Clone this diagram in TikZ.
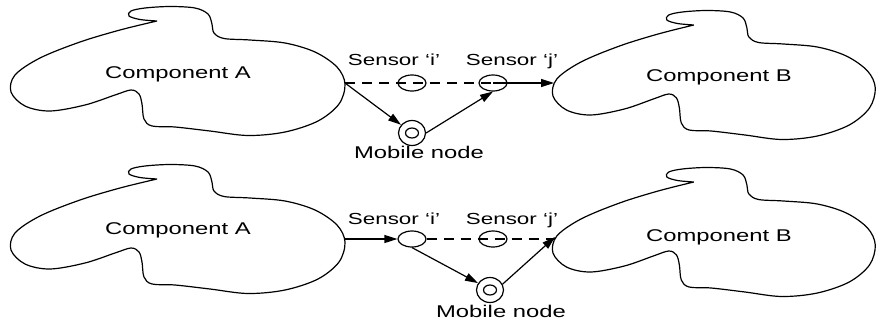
\documentclass[tikz,border=0pt]{standalone}
\usepackage{fontspec}
\newfontfamily\lab{Liberation Sans}[FakeStretch=1.4]
\usetikzlibrary{arrows.meta,shapes.geometric}
\tikzset{
  blob/.pic={\draw[line width=1.2pt] plot[smooth, tension=0.55] coordinates {(147,21) (130,19.5) (119,16) (121,11) (135,8) (160,6.5) (185,8) (198,14) (202,24) (204,33) (214,38.5) (240,40) (275,43) (305,52) (327,67) (335,84) (329,104) (308,121) (275,132) (238,135.5) (200,131) (165,127) (142,126) (134,119) (132,104) (129,94) (121,90) (105,95) (75,105) (40,111) (15,106) (1,92) (5,75) (30,58) (70,42) (110,30) (147,21)};},
  conn/.style={line width=1.2pt,-{Triangle[length=13pt,width=8pt]}},
  dline/.style={line width=1.2pt,dash pattern=on 10pt off 7pt},
  sensor/.style={draw,line width=1.2pt,ellipse,minimum width=28pt,minimum height=16pt,inner sep=0pt},
  mobouter/.style={draw,line width=1.2pt,ellipse,minimum width=27pt,minimum height=25pt,inner sep=0pt},
  mobinner/.style={draw,line width=1.2pt,ellipse,minimum width=13pt,minimum height=10pt,inner sep=0pt},
  comp/.style={font=\lab\fontsize{17}{20}\selectfont,anchor=base,inner sep=0pt},
  slab/.style={font=\lab\fontsize{16}{19}\selectfont,anchor=base,inner sep=0pt},
  mlab/.style={font=\lab\fontsize{17}{20}\selectfont,anchor=base,inner sep=0pt}
}
\begin{document}
\begin{tikzpicture}[x=1pt,y=-1pt]
\useasboundingbox (0,0) rectangle (876,322);
% blobs
\pic at (10,0) {blob};
\pic[xscale=0.965] at (552,4) {blob};
\pic at (10,158) {blob};
\pic[xscale=0.965] at (552,161) {blob};
% labels
\node[comp] (cA1) at (178,78) {Component A};
\node[comp] (cB1) at (719,81) {Component B};
\node[comp] (cA2) at (178,234) {Component A};
\node[comp] (cB2) at (719,241) {Component B};
\node[slab] (li1) at (394,65) {Sensor ‘i’};
\node[slab] (lj1) at (512,65) {Sensor ‘j’};
\node[slab] (li2) at (394,224) {Sensor ‘i’};
\node[slab] (lj2) at (512,224) {Sensor ‘j’};
\node[mlab] (lm1) at (419,158) {Mobile node};
\node[mlab] (lm2) at (501,317) {Mobile node};
% sensors and mobile nodes
\node[sensor] (si1) at (412,83) {};
\node[sensor] (sj1) at (493,83) {};
\node[sensor] (si2) at (412,239) {};
\node[sensor] (sj2) at (493,239) {};
\node[mobouter] (m1) at (412,133) {};
\node[mobinner] (m1in) at (412,133) {};
\node[mobouter] (m2) at (490,290) {};
\node[mobinner] (m2in) at (490,290) {};
% edge points on blobs
\coordinate (Ae1) at (345,83);
\coordinate (Be1) at (554,83);
\coordinate (Ae2) at (345,239);
\coordinate (Be2) at (555,237);
% top connectors
\draw[dline] (Ae1) -- (sj1.center);
\draw[conn] (sj1.center) -- (Be1);
\draw[conn] (Ae1) -- (m1);
\draw[conn] (m1.east) -- (sj1.south);
% bottom connectors
\draw[conn] (Ae2) -- (si2.west);
\draw[dline] (si2.east) -- (Be2 |- si2.east);
\draw[conn] (si2.south) -- (m2.150);
\draw[conn] (m2.25) -- (Be2);
\end{tikzpicture}
\end{document}
